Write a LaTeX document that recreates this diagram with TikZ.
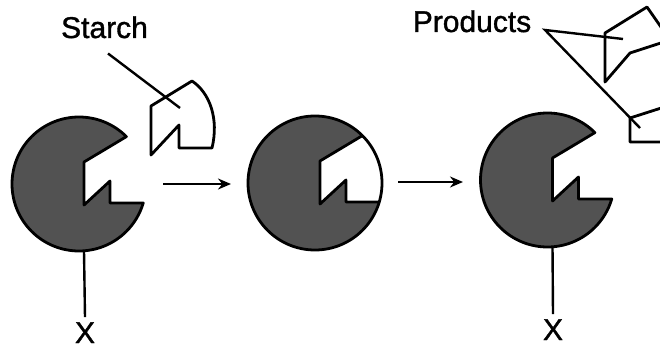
\documentclass[tikz,border=0pt]{standalone}
\usepackage{fontspec}
\setmainfont{Liberation Sans}
\newfontfamily\labelfont[FakeBold=1.2]{Liberation Sans}
\usetikzlibrary{arrows.meta}
\begin{document}
\begin{tikzpicture}[x=1pt,y=1pt,
  outline/.style={line width=2.8pt, line join=round},
  leader/.style={line width=2.4pt},
  flow/.style={line width=2.4pt, -{Stealth[length=13pt,width=11pt]}},
  body/.style={fill=black!68},
  lbl/.style={font=\labelfont\fontsize{30}{36}\selectfont, inner sep=0pt, anchor=base},
  % enzyme whose active site is empty
  pics/openenzyme/.style={code={
    \filldraw[body, draw=black, outline]
      (-16.4:67) -- (31,-19) -- (31,3) -- (5,-21) -- (5,22) -- (45:67)
      arc[start angle=45, end angle=343.6, radius=67] -- cycle;
    \coordinate (-stalk) at (5,-67);
  }},
  % enzyme with the substrate bound in its active site
  pics/boundenzyme/.style={code={
    \fill[body] (0,0) circle[radius=67];
    \fill[white] (-16.4:67) -- (31,-19) -- (31,3) -- (5,-21) -- (5,22) -- (45:67)
      arc[start angle=45, end angle=-16.4, radius=67] -- cycle;
    \draw[outline] (-16.4:67) -- (31,-19) -- (31,3) -- (5,-21) -- (5,22) -- (45:67);
    \draw[outline] (0,0) circle[radius=67];
  }},
]
\useasboundingbox (0,0) rectangle (660,351);

% the three stages
\pic (left)  at (79,167)    {openenzyme};
\pic (mid)   at (315,168)   {boundenzyme};
\pic (right) at (547.5,171) {openenzyme};

% starch molecule approaching the enzyme
\draw[outline, fill=white] (151,245) -- (192,270)
  .. controls (210,258) and (219,232) .. (212,203)
  -- (179,203) -- (179,226) -- (151,196) -- cycle;

% reaction arrows
\coordinate (a1s) at (163,167);
\coordinate (a1e) at (231,167);
\coordinate (a2s) at (398,169);
\coordinate (a2e) at (463,169);
\draw[flow] (a1s) -- (a1e);
\draw[flow] (a2s) -- (a2e);

% labels
\node[lbl] (starch)   at (104.5,313) {Starch};
\node[lbl] (products) at (472,319)   {Products};
\node[lbl] (xl)       at (85,8)      {X};
\node[lbl] (xr)       at (553,11)    {X};

% released product fragments
\begin{scope}
  \clip (0,0) rectangle (660,351);
  \draw[outline, fill=white] (605,318) -- (647,344) -- (670,311) -- (630,298) -- (605,269) -- cycle;
  \draw[outline, fill=white] (630,233) -- (680,249) -- (680,209) -- (630,209) -- cycle;
\end{scope}

% pointers
\coordinate (sp)  at (180,243);
\coordinate (pv)  at (545,321);
\coordinate (pp1) at (623,312);
\coordinate (pp2) at (640,223);
\draw[leader] ([shift={(3.5,-15)}]starch.south) -- (sp);
\draw[leader] (pp1) -- (pv) -- (pp2);
\draw[leader] (left-stalk) -- ([yshift=5pt]xl.north);
\draw[leader] (right-stalk) -- ([yshift=5pt]xr.north);
\end{tikzpicture}
\end{document}
